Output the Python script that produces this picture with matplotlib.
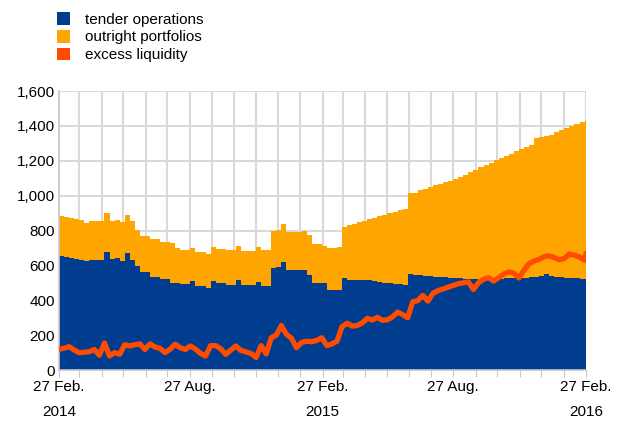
import numpy as np
import pandas as pd
import matplotlib
matplotlib.use("Agg")
import matplotlib.pyplot as plt
from matplotlib.patches import Patch

plt.rcParams["font.family"] = ["Liberation Sans", "DejaVu Sans"]

# %% Data (EUR billions, weekly from 27 Feb 2014, last point 27 Feb 2016)
dates = list(pd.date_range("2014-02-27", periods=105, freq="7D")) + [pd.Timestamp("2016-02-27")]

tender_operations = [
    654, 648, 642, 637, 631, 623, 631, 631, 631, 678,
    635, 640, 627, 673, 631, 596, 564, 564, 531, 531,
    520, 520, 500, 497, 493, 493, 510, 482, 482, 468,
    512, 497, 497, 490, 490, 516, 487, 487, 487, 505,
    482, 482, 583, 592, 621, 573, 573, 573, 573, 545,
    497, 497, 500, 459, 459, 459, 529, 516, 516, 516,
    516, 514, 510, 505, 500, 497, 495, 492, 488, 550,
    545, 543, 540, 538, 536, 534, 532, 530, 528, 526,
    524, 522, 520, 518, 518, 520, 522, 524, 526, 525,
    526, 528, 530, 532, 535, 540, 552, 538, 535, 532,
    530, 528, 525, 522, 520, 520,
]

total_assets = [
    883, 878, 872, 866, 862, 845, 856, 856, 856, 898,
    856, 862, 848, 889, 856, 803, 768, 768, 749, 749,
    736, 736, 730, 698, 688, 688, 701, 678, 678, 665,
    703, 692, 692, 688, 688, 711, 684, 684, 684, 703,
    688, 688, 799, 803, 837, 789, 789, 789, 799, 774,
    722, 722, 713, 701, 701, 707, 822, 831, 839, 848,
    857, 865, 874, 883, 891, 900, 909, 917, 926, 1013,
    1018, 1030, 1040, 1050, 1061, 1069, 1077, 1085, 1093, 1106,
    1120, 1133, 1147, 1166, 1178, 1190, 1203, 1215, 1229, 1241,
    1255, 1268, 1280, 1292, 1328, 1335, 1342, 1350, 1363, 1376,
    1388, 1400, 1412, 1424, 1436, 1438,
]
outright_portfolios = [t - b for t, b in zip(total_assets, tender_operations)]

excess_liquidity = [
    119, 125, 134, 115, 99, 102, 105, 118, 85, 155,
    80, 100, 90, 145, 138, 145, 150, 118, 150, 132,
    124, 100, 120, 148, 128, 118, 138, 120, 96, 80,
    140, 140, 122, 90, 115, 138, 112, 104, 95, 72,
    140, 92, 185, 200, 255, 205, 182, 128, 158, 165,
    162, 170, 185, 140, 150, 165, 248, 268, 252, 255,
    270, 296, 287, 302, 285, 288, 305, 332, 318, 300,
    392, 398, 428, 395, 440, 455, 465, 475, 485, 495,
    500, 505, 462, 500, 520, 530, 510, 530, 550, 562,
    555, 528, 572, 610, 625, 635, 650, 655, 645, 632,
    640, 665, 658, 648, 630, 669,
]

series_labels = ["tender operations", "outright portfolios", "excess liquidity"]
series_colors = ["#003D8F", "#FFA500", "#FF4B00"]

# %% Plot
fig = plt.figure(figsize=(6.17, 4.21), dpi=100)
ax = fig.add_axes([0.0956, 0.1211, 0.8542, 0.6627])

tender = np.array(tender_operations)
outright = np.array(outright_portfolios)

ax.fill_between(dates, 0, tender + outright, step="post", color=series_colors[1], linewidth=0, zorder=2)
ax.fill_between(dates, 0, tender, step="post", color=series_colors[0], linewidth=0, zorder=2)
ax.plot(dates, excess_liquidity, color=series_colors[2], linewidth=3.8, solid_capstyle="round", zorder=3)

# Axes ranges and ticks
ax.set_xlim(pd.Timestamp("2014-02-27"), pd.Timestamp("2016-02-27"))
ax.set_ylim(0, 1600)
ax.set_yticks(range(0, 1601, 200))
ax.set_yticklabels([f"{v:,}" for v in range(0, 1601, 200)])

month_ticks = pd.date_range("2014-02-01", "2016-02-01", freq="MS") + pd.Timedelta(days=26)
ax.set_xticks(month_ticks)
tick_names = []
for i, d in enumerate(month_ticks):
    if i % 6 == 0:
        tick_names.append("27 Feb." if d.month == 2 else "27 Aug.")
    else:
        tick_names.append("")
ax.set_xticklabels(tick_names)

ax.grid(True, color="#D9D9D9", linewidth=1.5, zorder=0)
ax.set_axisbelow(True)
for side in ["top", "right"]:
    ax.spines[side].set_visible(False)
for side in ["left", "bottom"]:
    ax.spines[side].set_color("#C8C8C8")
    ax.spines[side].set_linewidth(1.2)
ax.tick_params(axis="x", length=5, color="#C8C8C8", labelsize=11, pad=2)
ax.tick_params(axis="y", length=0, labelsize=11, pad=3)

# Year labels under the axis
for year in ["2014", "2015", "2016"]:
    ax.text(pd.Timestamp(f"{year}-02-27"), -0.125, year, transform=ax.get_xaxis_transform(),
            ha="center", va="top", fontsize=11)

# Legend
handles = [Patch(facecolor=c, edgecolor="none") for c in series_colors]
fig.legend(handles, series_labels, loc="upper left", bbox_to_anchor=(0.072, 1.0),
           frameon=False, fontsize=11, handlelength=0.9, handleheight=0.9,
           handletextpad=0.95, labelspacing=0.2, borderpad=0.3)

fig.savefig("out.png", dpi=100)
